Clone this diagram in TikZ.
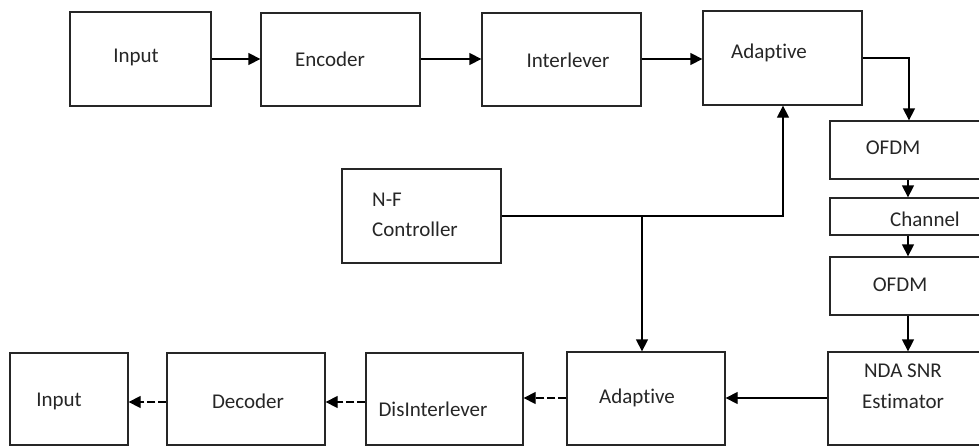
\documentclass[tikz,border=0pt]{standalone}
\usepackage{fontspec}
\setmainfont{Carlito}[Ligatures={NoCommon},RawFeature={-calt}]
\usetikzlibrary{arrows.meta}
% keep "t" and "i" as separate glyphs
\newcommand{\adaptword}{Adapt\kern0pt ive}
\tikzset{
  blk/.style={draw=black!85, line width=1.3pt, inner sep=0pt, minimum width=#1},
  lbl/.style={inner sep=0pt, text=black!85, font=\fontsize{21}{25}\selectfont},
  flow/.style={draw=black, line width=1.3pt, -{Triangle[length=12pt,width=12pt]}},
  brk/.style={flow, dash pattern=on 8pt off 3pt}
}
\begin{document}
\begin{tikzpicture}[x=1pt,y=-1pt]
\useasboundingbox (0,0) rectangle (979,447);
\clip (0,0) rectangle (979,447);
% transmitter chain
\node[blk=141pt, minimum height=94pt] (in1)  at (140.5,59)   {};
\node[blk=159pt, minimum height=93pt] (enc)  at (340.5,59.5) {};
\node[blk=159pt, minimum height=93pt] (intl) at (561.5,59.5) {};
\node[blk=159pt, minimum height=94pt] (adp1) at (782.5,58)   {};
% controller
\node[blk=159pt, minimum height=94pt] (nf)   at (421.5,216)  {};
% right column
\node[blk=166pt, minimum height=58pt] (ofdm1) at (913,150)   {};
\node[blk=166pt, minimum height=37pt] (chan)  at (913,216.5) {};
\node[blk=166pt, minimum height=58pt] (ofdm2) at (913,286)   {};
\node[blk=167pt, minimum height=93pt] (nda)   at (911.5,398.5) {};
% receiver chain
\node[blk=158pt, minimum height=93pt] (adp2) at (646,398.5)  {};
\node[blk=157pt, minimum height=92pt] (dis)  at (444.5,399)  {};
\node[blk=158pt, minimum height=92pt] (dec)  at (246,399)    {};
\node[blk=118pt, minimum height=92pt] (in2)  at (69,399)     {};

% labels
\node[lbl] (t1)  at (136,57)  {Input};
\node[lbl] (t2)  at (330,59)  {Encoder};
\node[lbl] (t3)  at (568,60)  {Interlever};
\node[lbl] (t4)  at (769,53)  {\adaptword};
\node[lbl, anchor=west] (t5a) at (372,200) {N-F};
\node[lbl, anchor=west] (t5b) at (372,229) {Controller};
\node[lbl] (t6)  at (893,148) {OFDM};
\node[lbl] (t7)  at (925,219) {Channel};
\node[lbl] (t8)  at (900,285) {OFDM};
\node[lbl] (t9a) at (903,371) {NDA SNR};
\node[lbl] (t9b) at (903,401) {Estimator};
\node[lbl] (t10) at (637,398) {\adaptword};
\node[lbl] (t11) at (433,409) {DisInterlever};
\node[lbl] (t12) at (248,401) {Decoder};
\node[lbl] (t13) at (59,401)  {Input};

% connectors
\draw[flow] (in1.east |- 0,59) -- (enc.west |- 0,59);
\draw[flow] (enc.east |- 0,59) -- (intl.west |- 0,59);
\draw[flow] (intl.east |- 0,59) -- (adp1.west |- 0,59);
\draw[flow] (adp1.east |- 0,58) -| (ofdm1.north -| 909,0);
\draw[flow] (ofdm1.south -| 908,0) -- (chan.north -| 908,0);
\draw[flow] (chan.south -| 908,0) -- (ofdm2.north -| 908,0);
\draw[flow] (ofdm2.south -| 908,0) -- (nda.north -| 908,0);
\draw[flow] (nda.west |- 0,398) -- (adp2.east |- 0,398);
\draw[brk]  (adp2.west |- 0,398) -- (dis.east |- 0,398);
\draw[brk]  (dis.west |- 0,402) -- (dec.east |- 0,402);
\draw[brk]  (dec.west |- 0,402) -- (in2.east |- 0,402);
\coordinate (split) at (642,216);
\draw[flow] (nf.east |- 0,216) -| (adp1.south -| 783,0);
\draw[flow] (split) -- (adp2.north -| 642,0);
\end{tikzpicture}
\end{document}
